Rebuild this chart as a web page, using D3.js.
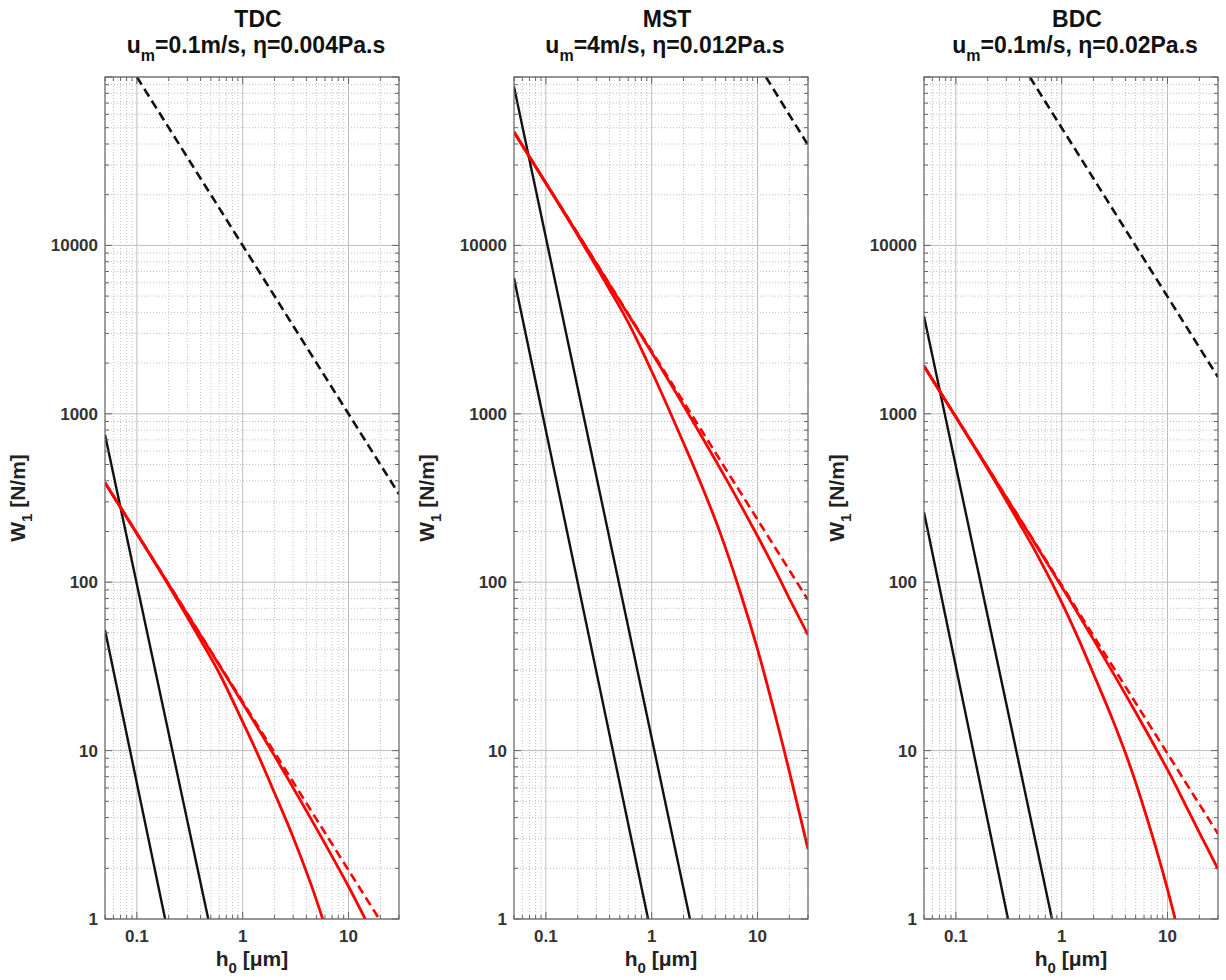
<!DOCTYPE html>
<html><head><meta charset="utf-8">
<script src="https://cdn.jsdelivr.net/npm/d3@7"></script>
<style>
body{margin:0;background:#fff}
text{font-family:"Liberation Sans",Arial,Helvetica,sans-serif}
</style>
</head><body>
<svg id="c" width="1226" height="980"></svg>
<script>
// ---- data ----
const panelNames = ["TDC", "MST", "BDC"];
const panelSpeed = ["0.1m/s", "4m/s", "0.1m/s"];
const panelEta = ["0.004Pa.s", "0.012Pa.s", "0.02Pa.s"];
const xTickValues = [0.1, 1, 10];
const xTickLabels = ["0.1", "1", "10"];
const yTickValues = [1, 10, 100, 1000, 10000];
const yTickLabels = ["1", "10", "100", "1000", "10000"];
const xDomain = [0.05, 30];
const yDomain = [1, 100000];

// TDC
const tdcBlackDashed = [[0.1, 100000], [30, 333]];
const tdcBlackA = [[0.05, 750], [0.473, 1]];
const tdcBlackB = [[0.05, 52], [0.185, 1]];
const tdcRedDashed = [[0.05, 390], [20, 0.975]];
const tdcRedUpper = [[0.05, 390], [0.1, 195], [0.2, 97], [0.5, 38.6], [1, 19.1], [2, 9.3], [5, 3.43], [10, 1.56], [15, 0.95], [20, 0.66]];
const tdcRedLower = [[0.05, 390], [0.1, 194], [0.2, 95.5], [0.4, 45.3], [0.6, 28.9], [1, 14.8], [1.4, 9.4], [2, 5.6], [3, 3.06], [4.43, 1.6], [5.7, 1.0], [7, 0.66]];
// MST
const mstBlackDashed = [[12, 100000], [30, 39500]];
const mstBlackA = [[0.05, 87500], [2.3, 1]];
const mstBlackB = [[0.05, 6400], [0.925, 1]];
const mstRedDashed = [[0.05, 47100], [30, 78.5]];
const mstRedUpper = [[0.05, 47100], [0.1, 23500], [0.2, 11700], [0.5, 4660], [1, 2310], [2, 1120], [5, 415], [10, 188], [15, 115], [20, 80], [30, 48.6]];
const mstRedLower = [[0.05, 47100], [0.1, 23400], [0.2, 11500], [0.4, 5470], [0.6, 3490], [1, 1790], [1.4, 1120], [2, 671], [3, 369], [4.43, 197], [7, 84], [10, 40], [15.6, 14], [20, 7.5], [30, 2.6]];
// BDC
const bdcBlackDashed = [[0.5, 100000], [30, 1650]];
const bdcBlackA = [[0.05, 3800], [0.81, 1]];
const bdcBlackB = [[0.05, 260], [0.311, 1]];
const bdcRedDashed = [[0.05, 1920], [30, 3.2]];
const bdcRedUpper = [[0.05, 1920], [0.1, 960], [0.2, 478], [0.5, 190], [1, 94], [2, 45.6], [5, 16.9], [10, 7.7], [15, 4.67], [20, 3.26], [30, 1.98]];
const bdcRedLower = [[0.05, 1920], [0.1, 955], [0.2, 470], [0.4, 223], [0.6, 142], [1, 76], [1.4, 48], [2, 28.5], [3, 15.5], [4.43, 8.1], [7, 3.3], [10, 1.5], [11.8, 1.0], [15, 0.55]];

const panelSeries = [
  {blackDashed: tdcBlackDashed, blackA: tdcBlackA, blackB: tdcBlackB, redDashed: tdcRedDashed, redUpper: tdcRedUpper, redLower: tdcRedLower},
  {blackDashed: mstBlackDashed, blackA: mstBlackA, blackB: mstBlackB, redDashed: mstRedDashed, redUpper: mstRedUpper, redLower: mstRedLower},
  {blackDashed: bdcBlackDashed, blackA: bdcBlackA, blackB: bdcBlackB, redDashed: bdcRedDashed, redUpper: bdcRedUpper, redLower: bdcRedLower}
];

// ---- layout ----
const lefts = [105, 514, 924];
const plotW = 294, plotTop = 77, plotBottom = 919;
const svg = d3.select("#c");

function minorTicks(lo, hi) {
  const out = [];
  for (let e = -3; e <= 6; e++) {
    for (let k = 1; k <= 9; k++) {
      const v = k * Math.pow(10, e);
      if (v >= lo * 0.9999 && v <= hi * 1.0001) out.push({v, major: k === 1});
    }
  }
  return out;
}

panelNames.forEach((name, i) => {
  const L = lefts[i];
  const x = d3.scaleLog().domain(xDomain).range([L, L + plotW]);
  const y = d3.scaleLog().domain(yDomain).range([plotBottom, plotTop]);
  const g = svg.append("g");
  const xt = minorTicks(xDomain[0], xDomain[1]);
  const yt = minorTicks(yDomain[0], yDomain[1]);

  // grid
  const grid = g.append("g");
  xt.forEach(t => {
    grid.append("line").attr("x1", x(t.v)).attr("x2", x(t.v)).attr("y1", plotTop).attr("y2", plotBottom)
      .attr("stroke", t.major ? "#bdbdbd" : "#c2c2c2").attr("stroke-width", 1)
      .attr("stroke-dasharray", t.major ? null : "1,2");
  });
  yt.forEach(t => {
    grid.append("line").attr("y1", y(t.v)).attr("y2", y(t.v)).attr("x1", L).attr("x2", L + plotW)
      .attr("stroke", t.major ? "#bdbdbd" : "#c2c2c2").attr("stroke-width", 1)
      .attr("stroke-dasharray", t.major ? null : "1,2");
  });

  // clip
  svg.append("clipPath").attr("id", "clip" + i).append("rect")
    .attr("x", L).attr("y", plotTop).attr("width", plotW).attr("height", plotBottom - plotTop);
  const lines = g.append("g").attr("clip-path", `url(#clip${i})`);
  const line = d3.line().x(d => x(d[0])).y(d => y(d[1])).curve(d3.curveCatmullRom.alpha(0.5));
  const s = panelSeries[i];
  const styles = [
    ["blackA", "#111", 2.4, null],
    ["blackB", "#111", 2.4, null],
    ["blackDashed", "#111", 2.6, "9,5"],
    ["redDashed", "#ff0000", 2.6, "9,5"],
    ["redLower", "#ff0000", 2.8, null],
    ["redUpper", "#ff0000", 2.8, null]
  ];
  styles.forEach(([k, c, w, da]) => {
    lines.append("path").attr("d", line(s[k])).attr("fill", "none")
      .attr("stroke", c).attr("stroke-width", w).attr("stroke-dasharray", da);
  });

  // ticks (inside, all four sides)
  const tk = g.append("g").attr("stroke", "#666").attr("stroke-width", 1);
  xt.forEach(t => {
    const len = t.major ? 7 : 4;
    tk.append("line").attr("x1", x(t.v)).attr("x2", x(t.v)).attr("y1", plotBottom).attr("y2", plotBottom - len);
    tk.append("line").attr("x1", x(t.v)).attr("x2", x(t.v)).attr("y1", plotTop).attr("y2", plotTop + len);
  });
  yt.forEach(t => {
    const len = t.major ? 7 : 4;
    tk.append("line").attr("y1", y(t.v)).attr("y2", y(t.v)).attr("x1", L).attr("x2", L + len);
    tk.append("line").attr("y1", y(t.v)).attr("y2", y(t.v)).attr("x1", L + plotW).attr("x2", L + plotW - len);
  });

  // frame
  g.append("rect").attr("x", L).attr("y", plotTop).attr("width", plotW).attr("height", plotBottom - plotTop)
    .attr("fill", "none").attr("stroke", "#666").attr("stroke-width", 1.2);

  // tick labels
  xTickValues.forEach((v, j) => {
    g.append("text").attr("x", x(v)).attr("y", 942).attr("text-anchor", "middle")
      .attr("font-size", 17).attr("font-weight", "bold").attr("fill", "#333").text(xTickLabels[j]);
  });
  yTickValues.forEach((v, j) => {
    g.append("text").attr("x", L - 7).attr("y", y(v) + 6).attr("text-anchor", "end")
      .attr("font-size", 17).attr("font-weight", "bold").attr("fill", "#333").text(yTickLabels[j]);
  });

  // axis labels
  const cx = L + plotW / 2;
  const xl = g.append("text").attr("x", cx).attr("y", 966).attr("text-anchor", "middle")
    .attr("font-size", 21).attr("font-weight", "bold").attr("fill", "#222");
  xl.append("tspan").text("h");
  xl.append("tspan").attr("dy", 7).attr("font-size", 15).text("0");
  xl.append("tspan").attr("dy", -7).text(" [μm]");

  const yl = g.append("text").attr("transform", `translate(${L - 80},${(plotTop + plotBottom) / 2}) rotate(-90)`)
    .attr("text-anchor", "middle").attr("font-size", 21).attr("font-weight", "bold").attr("fill", "#222");
  yl.append("tspan").text("W");
  yl.append("tspan").attr("dy", 7).attr("font-size", 15).text("1");
  yl.append("tspan").attr("dy", -7).text(" [N/m]");

  // titles
  g.append("text").attr("x", cx + 6).attr("y", 27).attr("text-anchor", "middle")
    .attr("font-size", 23).attr("font-weight", "bold").attr("fill", "#111").text(name);
  const t2 = g.append("text").attr("x", cx + 4).attr("y", 53).attr("text-anchor", "middle")
    .attr("font-size", 23).attr("font-weight", "bold").attr("fill", "#111");
  t2.append("tspan").text("u");
  t2.append("tspan").attr("dy", 8).attr("font-size", 16).text("m");
  t2.append("tspan").attr("dy", -8).text("=" + panelSpeed[i] + ", η=" + panelEta[i]);
});
</script>
</body></html>
